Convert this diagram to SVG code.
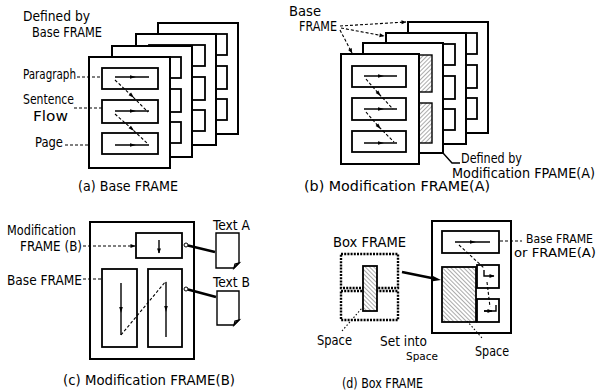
<svg xmlns="http://www.w3.org/2000/svg" width="599" height="391" viewBox="0 0 599 391">
<defs>
<style>
text{font-family:"Liberation Sans Narrow","DejaVu Sans Condensed","Liberation Sans",sans-serif;font-size:14px;fill:#000}
.sm{font-size:12.5px}
.pg{fill:#fff;stroke:#000;stroke-width:2}
.bx{fill:#fff;stroke:#000;stroke-width:1.8}
.ln{fill:none;stroke:#000;stroke-width:1.4}
.dl{fill:none;stroke:#000;stroke-width:1.1;stroke-dasharray:3 2}
.dt{fill:none;stroke:#000;stroke-width:1.1;stroke-dasharray:1.5 2}
.thick{fill:none;stroke:#000;stroke-width:2.6}
.hf{fill:url(#hatchF);stroke:#000;stroke-width:1.4}
.hb{fill:url(#hatchB);stroke:#000;stroke-width:1.8}
.dotbx{fill:#fff;stroke:#000;stroke-width:2.4;stroke-dasharray:2 1.2}
</style>
<marker id="mid" viewBox="0 0 10 10" refX="5" refY="5" markerWidth="7" markerHeight="6" markerUnits="userSpaceOnUse" orient="auto"><path d="M0,2 L10,5 L0,8 z"/></marker>
<marker id="end" viewBox="0 0 10 10" refX="9" refY="5" markerWidth="6" markerHeight="5" markerUnits="userSpaceOnUse" orient="auto"><path d="M0,1 L10,5 L0,9 z"/></marker>
<pattern id="hatchF" width="3" height="3" patternUnits="userSpaceOnUse" patternTransform="rotate(45)"><rect width="3" height="3" fill="#fff"/><line x1="0" y1="0" x2="0" y2="3" stroke="#444" stroke-width="0.9"/></pattern>
<pattern id="hatchB" width="3" height="3" patternUnits="userSpaceOnUse" patternTransform="rotate(-45)"><rect width="3" height="3" fill="#fff"/><line x1="0" y1="0" x2="0" y2="3" stroke="#444" stroke-width="0.9"/></pattern>
</defs>
<rect width="599" height="391" fill="#fff"/>

<!-- Panel (a) -->
<g id="a-page4" transform="translate(158,23)"><rect class="pg" width="80" height="111"/><rect class="bx" x="13" y="11" width="56" height="21"/><rect class="bx" x="13" y="43" width="56" height="23"/><rect class="bx" x="13" y="76" width="56" height="21"/></g>
<g id="a-page3" transform="translate(136,34)"><rect class="pg" width="80" height="111"/><rect class="bx" x="13" y="11" width="56" height="21"/><rect class="bx" x="13" y="43" width="56" height="23"/><rect class="bx" x="13" y="76" width="56" height="21"/></g>
<g id="a-page2" transform="translate(112,46)"><rect class="pg" width="80" height="111"/><rect class="bx" x="13" y="11" width="56" height="21"/><rect class="bx" x="13" y="43" width="56" height="23"/><rect class="bx" x="13" y="76" width="56" height="21"/></g>
<g id="a-page1" transform="translate(89,57)"><rect class="pg" width="81" height="111"/><rect class="bx" x="13" y="11" width="56" height="21"/><rect class="bx" x="13" y="43" width="56" height="23"/><rect class="bx" x="13" y="76" width="56" height="21"/>
<path class="ln" d="M26 20 L44 20 L60 20" marker-mid="url(#mid)"/>
<path class="ln" d="M26 54 L44 54 L60 54" marker-mid="url(#mid)"/>
<path class="ln" d="M26 88 L44 88 L60 88" marker-mid="url(#mid)"/>
<path class="dl" d="M26 23 L43 39 L59 55" marker-mid="url(#mid)"/>
<path class="dl" d="M26 57 L43 72 L59 87" marker-mid="url(#mid)"/>
</g>
<g id="a-labels">
<text x="23" y="21" textLength="67" lengthAdjust="spacingAndGlyphs">Defined by</text>
<text x="32" y="37" textLength="70" lengthAdjust="spacingAndGlyphs">Base FRAME</text>
<text x="23" y="79" textLength="53" lengthAdjust="spacingAndGlyphs">Paragraph</text>
<text x="23" y="104" textLength="51" lengthAdjust="spacingAndGlyphs">Sentence</text>
<text x="33" y="121" textLength="35" lengthAdjust="spacingAndGlyphs">Flow</text>
<text x="35" y="147" textLength="28" lengthAdjust="spacingAndGlyphs">Page</text>
<text x="78" y="191" textLength="100" lengthAdjust="spacingAndGlyphs">(a) Base FRAME</text>
</g>

<!-- Panel (b) -->
<g id="b-page4" transform="translate(408,22)"><rect class="pg" width="80" height="111"/><rect class="bx" x="13" y="11" width="56" height="21"/><rect class="bx" x="13" y="43" width="56" height="23"/><rect class="bx" x="13" y="76" width="56" height="21"/></g>
<g id="b-page3" transform="translate(386,33)"><rect class="pg" width="80" height="111"/><rect class="bx" x="13" y="11" width="56" height="21"/><rect class="bx" x="13" y="43" width="56" height="23"/><rect class="bx" x="13" y="76" width="56" height="21"/></g>
<g id="b-page2" transform="translate(363,43)"><rect class="pg" width="80" height="110"/><rect class="hf" x="13" y="12" width="56" height="37"/><rect class="hf" x="13" y="60" width="56" height="40"/></g>
<g id="b-page1" transform="translate(341,54)"><rect class="pg" width="78" height="110"/><rect class="bx" x="11" y="12" width="54" height="21"/><rect class="bx" x="11" y="44" width="54" height="22"/><rect class="bx" x="11" y="77" width="54" height="21"/>
<path class="ln" d="M23 22 L40 22 L56 22" marker-mid="url(#mid)"/>
<path class="ln" d="M23 55 L40 55 L56 55" marker-mid="url(#mid)"/>
<path class="ln" d="M23 89 L40 89 L56 89" marker-mid="url(#mid)"/>
<path class="dl" d="M25 25 L38 40 L52 55" marker-mid="url(#mid)"/>
<path class="dl" d="M25 58 L38 73 L53 88" marker-mid="url(#mid)"/>
</g>
<g id="b-labels">
<text x="289" y="16" textLength="32" lengthAdjust="spacingAndGlyphs">Base</text>
<text x="299" y="31" textLength="38" lengthAdjust="spacingAndGlyphs">FRAME</text>
<text x="461" y="163" textLength="61" lengthAdjust="spacingAndGlyphs">Defined by</text>
<text x="452" y="178" textLength="143" lengthAdjust="spacingAndGlyphs">Modification FPAME(A)</text>
<text x="304" y="191" textLength="186" lengthAdjust="spacingAndGlyphs">(b) Modification FRAME(A)</text>
</g>

<!-- Panel (c) -->
<g id="c-page"><rect class="pg" x="90" y="222" width="104" height="137"/>
<rect class="bx" x="136" y="233" width="46" height="25"/>
<path class="ln" d="M159 240 L159 253" marker-end="url(#end)"/>
<rect class="bx" x="102" y="269" width="35" height="78"/>
<rect class="bx" x="148" y="269" width="34" height="78"/>
<path class="ln" d="M121 283 L121 310 L121 335" marker-mid="url(#mid)"/>
<path class="ln" d="M166 282 L166 309 L166 337" marker-mid="url(#mid)"/>
<path class="dl" d="M121 335 L166 281"/>
</g>
<g id="c-textA"><path class="ln" stroke-width="1.8" d="M216 233 H239 V263 L234 268 H216 Z"/><path class="ln" d="M234 268 L239 263 L235 264 Z"/></g>
<g id="c-textB"><path class="ln" stroke-width="1.8" d="M217 291 H239 V320 L234 325 H217 Z"/><path class="ln" d="M234 325 L239 320 L235 321 Z"/></g>
<g id="c-labels">
<text x="7" y="235" textLength="69" lengthAdjust="spacingAndGlyphs">Modification</text>
<text x="20" y="251" textLength="62" lengthAdjust="spacingAndGlyphs">FRAME (B)</text>
<text x="7" y="285" textLength="75" lengthAdjust="spacingAndGlyphs">Base FRAME</text>
<text x="213" y="230" textLength="37" lengthAdjust="spacingAndGlyphs">Text A</text>
<text x="213" y="287" textLength="37" lengthAdjust="spacingAndGlyphs">Text B</text>
<text x="63" y="385" textLength="172" lengthAdjust="spacingAndGlyphs">(c) Modification FRAME(B)</text>
</g>

<!-- Panel (d) -->
<g id="d-boxframe">
<rect class="dotbx" x="341" y="254" width="57" height="34"/>
<rect class="dotbx" x="341" y="291" width="57" height="29"/>
<rect class="hb" x="363" y="266" width="14" height="45"/>
</g>
<g id="d-page"><rect class="pg" x="432" y="221" width="79" height="112"/>
<rect class="bx" x="442" y="231" width="57" height="22"/>
<path class="ln" d="M455 242 L473 242 L490 242" marker-mid="url(#mid)"/>
<rect class="hb" x="442" y="267" width="34" height="55"/>
<rect class="bx" x="477" y="265" width="22" height="23"/>
<rect class="bx" x="477" y="299" width="22" height="23"/>
<path class="ln" d="M484 270 V276 H494" marker-end="url(#end)"/>
<path class="ln" d="M484 311 H496 V305"/>
<path class="ln" d="M484 311 L492 311" marker-end="url(#end)"/>
<path class="dl" d="M459 245 L484 268"/>
<path class="dl" d="M487 282 L490 307"/>
</g>
<g id="d-labels">
<text x="333" y="247" textLength="73" lengthAdjust="spacingAndGlyphs">Box FRAME</text>
<text x="317" y="345" textLength="35" lengthAdjust="spacingAndGlyphs">Space</text>
<text x="380" y="346" textLength="47" lengthAdjust="spacingAndGlyphs">Set into</text>
<text x="406" y="360" textLength="32" lengthAdjust="spacingAndGlyphs" style="font-size:11px">Space</text>
<text x="475" y="356" textLength="34" lengthAdjust="spacingAndGlyphs">Space</text>
<text class="sm" x="526" y="243" textLength="67" lengthAdjust="spacingAndGlyphs">Base FRAME</text>
<text class="sm" x="514" y="257" textLength="82" lengthAdjust="spacingAndGlyphs">or FRAME(A)</text>
<text x="342" y="388" textLength="81" lengthAdjust="spacingAndGlyphs">(d) Box FRAME</text>
</g>

<!-- Connectors and leaders -->
<g id="connectors">
<path class="dl" d="M77 77 H102"/>
<path class="dl" d="M74 108 H102"/>
<path class="dl" d="M65 145 H89"/>
<path class="dl" d="M340 26 L406 22" marker-end="url(#end)"/>
<path class="dl" d="M341 28 L384 36" marker-end="url(#end)"/>
<path class="dl" d="M340 30 L352 53" marker-end="url(#end)"/>
<path class="ln" stroke-width="1" d="M443 153 L452 163 H460"/>
<path class="dl" d="M83 246 H135" marker-end="url(#end)"/>
<path class="dl" d="M83 279 H101"/>
<circle cx="186" cy="245" r="2" fill="#fff" stroke="#000" stroke-width="1"/>
<path class="thick" d="M188 245.5 L215 252"/>
<circle cx="186" cy="289" r="2" fill="#fff" stroke="#000" stroke-width="1"/>
<path class="thick" d="M188 289.5 L216 297"/>
<path class="thick" d="M402 272 L434 278.5"/>
<path d="M432 275.5 L441 280 L431 281.5 Z"/>
<path class="dt" d="M342 331 L362 308"/>
<path class="dl" d="M500 241 H522"/>
<path class="dt" d="M467 321 L482 338"/>
</g>
</svg>
